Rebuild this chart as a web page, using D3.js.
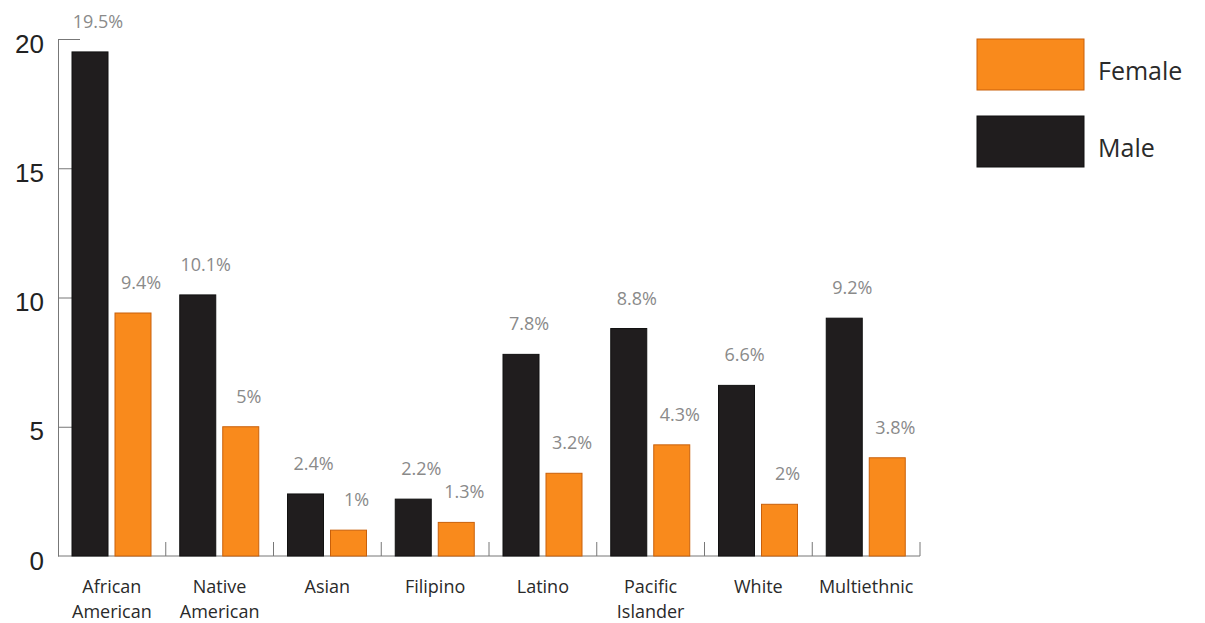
<!DOCTYPE html>
<html>
<head>
<meta charset="utf-8">
<script src="https://cdn.jsdelivr.net/npm/d3@7"></script>
<style>
  body { margin: 0; background: #fff; }
  svg { font-family: "Open Sans", sans-serif; }
</style>
</head>
<body>
<svg width="1205" height="623"></svg>
<script>
// data
const categories = [["African", "American"], ["Native", "American"], ["Asian"], ["Filipino"],
                    ["Latino"], ["Pacific", "Islander"], ["White"], ["Multiethnic"]];
const male = [19.5, 10.1, 2.4, 2.2, 7.8, 8.8, 6.6, 9.2];
const female = [9.4, 5, 1, 1.3, 3.2, 4.3, 2, 3.8];
const y_ticks = [0, 5, 10, 15, 20];
const series = ["Female", "Male"];

const svg = d3.select("svg");
const plot_left = 58, plot_right = 920, plot_top = 39, plot_bottom = 556;
const male_color = "#201d1e", female_color = "#f98a1c";

const x = d3.scaleBand().domain(d3.range(categories.length)).range([plot_left, plot_right]);
const y = d3.scaleLinear().domain([0, 20]).range([plot_bottom, plot_top]);

// y axis, ticks point inwards
const y_axis = svg.append("g")
   .attr("transform", `translate(${plot_left},0)`)
   .call(d3.axisLeft(y).tickValues(y_ticks).tickSizeInner(-14).tickSizeOuter(0).tickPadding(14));
y_axis.select(".domain").attr("stroke", "#777");
y_axis.selectAll(".tick line").attr("stroke", "#777");
y_axis.selectAll(".tick text")
   .attr("font-size", 26).attr("fill", "#222").attr("dy", "0.5em");
y_axis.selectAll(".tick").filter(d => d === 20).select("line").attr("x2", 22);
y_axis.selectAll(".tick").filter(d => d === 0).select("line").remove();

// x axis line with separator ticks between categories
svg.append("line")
   .attr("x1", plot_left).attr("x2", plot_right).attr("y1", plot_bottom).attr("y2", plot_bottom)
   .attr("stroke", "#777");
svg.selectAll("line.sep")
   .data(d3.range(1, categories.length + 1))
   .enter()
   .append("line")
   .attr("class", "sep")
   .attr("x1", d => plot_left + d * x.bandwidth())
   .attr("x2", d => plot_left + d * x.bandwidth())
   .attr("y1", plot_bottom).attr("y2", plot_bottom - 14)
   .attr("stroke", "#777");

const bar_w = 36, inset = 14, gap = 7;

function draw_bars(values, offset, color, stroke){
	svg.selectAll(null)
	   .data(values)
	   .enter()
	   .append("rect")
	   .attr("x", (d, i) => x(i) + offset)
	   .attr("y", d => y(d))
	   .attr("width", bar_w)
	   .attr("height", d => plot_bottom - y(d))
	   .attr("fill", color)
	   .attr("stroke", stroke)
	   .attr("stroke-width", 1);

	svg.selectAll(null)
	   .data(values)
	   .enter()
	   .append("text")
	   .attr("x", (d, i) => x(i) + offset + bar_w / 2 + 8)
	   .attr("y", d => y(d) - 24)
	   .attr("text-anchor", "middle")
	   .attr("font-size", 18)
	   .attr("fill", "#8a8a8a")
	   .text(d => `${d}%`);
}

draw_bars(male, inset, male_color, "#111");
draw_bars(female, inset + bar_w + gap, female_color, "#c9600a");

// category labels
const cat_labels = svg.selectAll("text.cat")
   .data(categories)
   .enter()
   .append("text")
   .attr("class", "cat")
   .attr("text-anchor", "middle")
   .attr("font-size", 18)
   .attr("fill", "#2a2a2a");
cat_labels.selectAll("tspan")
   .data((d, i) => d.map(line => ({line, i})))
   .enter()
   .append("tspan")
   .attr("x", d => x(d.i) + x.bandwidth() / 2)
   .attr("y", (d, j) => 593 + j * 25)
   .text(d => d.line);

// legend
const legend = svg.selectAll("g.legend")
   .data(series)
   .enter()
   .append("g")
   .attr("class", "legend")
   .attr("transform", (d, i) => `translate(977,${39 + i * 77})`);
legend.append("rect")
   .attr("width", 107).attr("height", 51)
   .attr("fill", d => d === "Female" ? female_color : male_color)
   .attr("stroke", d => d === "Female" ? "#c9600a" : "#111");
legend.append("text")
   .attr("x", 121).attr("y", 41)
   .attr("font-size", 25)
   .attr("fill", "#2a2a2a")
   .text(d => d);
</script>
</body>
</html>
